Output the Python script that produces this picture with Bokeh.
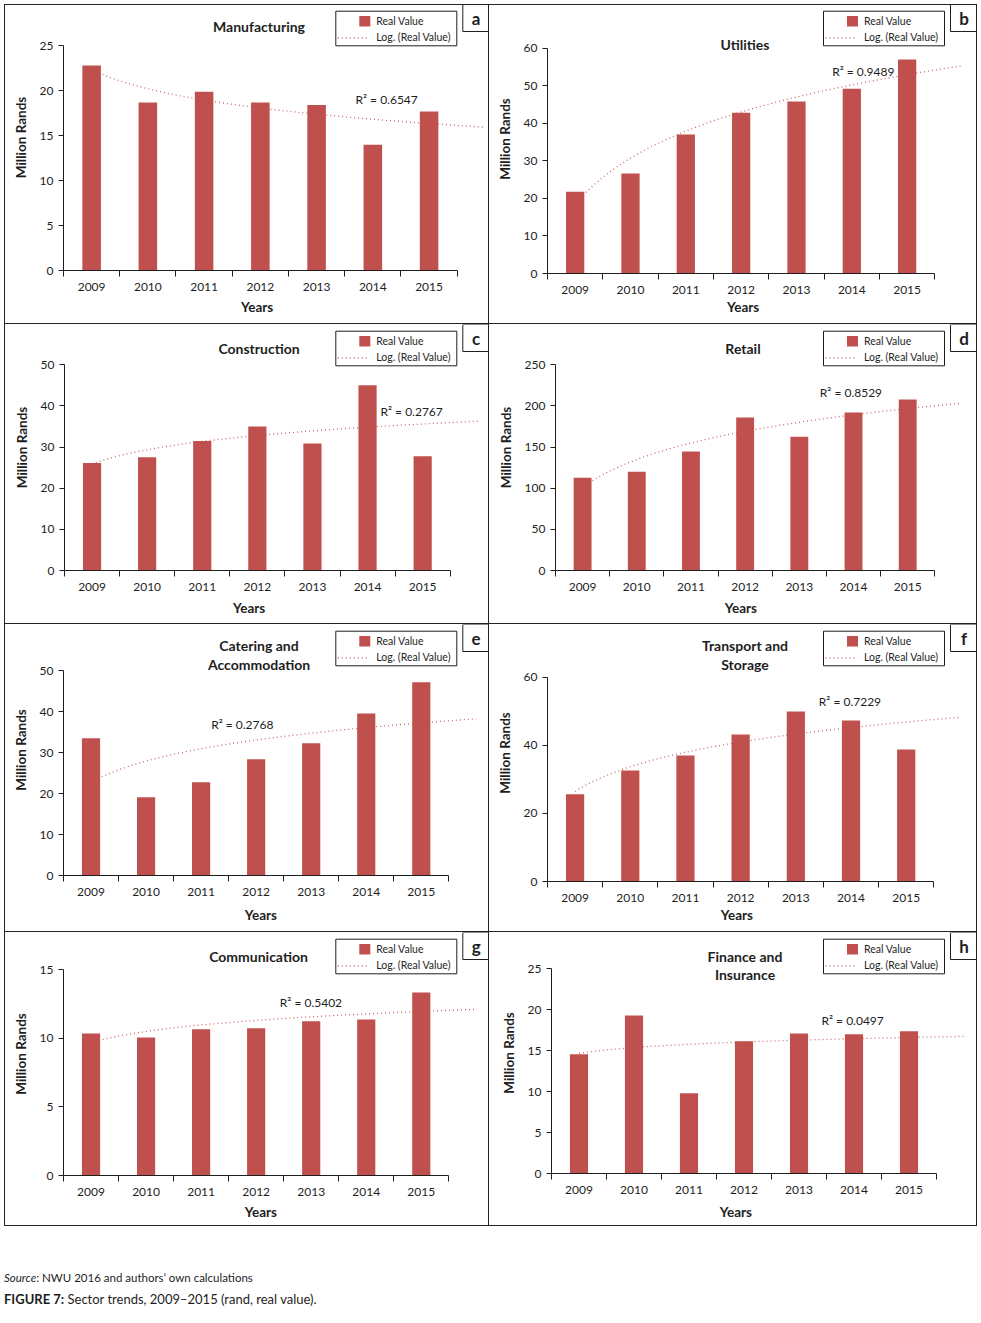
import numpy as np
from bokeh.plotting import figure
from bokeh.layouts import row, column
from bokeh.models import Range1d, FixedTicker, Div, Title
from bokeh.core.properties import value
from bokeh.embed import file_html
from bokeh.resources import INLINE

# ---------------- data ----------------
years = ["2009", "2010", "2011", "2012", "2013", "2014", "2015"]

manufacturing = [22.8, 18.7, 19.9, 18.7, 18.4, 14.0, 17.7]
utilities = [21.8, 26.6, 37.0, 42.8, 45.8, 49.2, 57.0]
construction = [26.1, 27.5, 31.5, 35.0, 30.9, 45.0, 27.8]
retail = [112.8, 120.1, 144.5, 185.9, 162.7, 192.0, 207.8]
catering = [33.5, 19.1, 22.8, 28.4, 32.3, 39.6, 47.2]
transport = [25.6, 32.6, 37.0, 43.2, 49.9, 47.3, 38.8]
communication = [10.36, 10.07, 10.66, 10.73, 11.24, 11.38, 13.35]
finance = [14.55, 19.3, 9.8, 16.14, 17.1, 17.0, 17.36]

r2_labels = ["R\u00b2 = 0.6547", "R\u00b2 = 0.9489", "R\u00b2 = 0.2767", "R\u00b2 = 0.8529",
             "R\u00b2 = 0.2768", "R\u00b2 = 0.7229", "R\u00b2 = 0.5402", "R\u00b2 = 0.0497"]
titles = [["Manufacturing"], ["Utilities"], ["Construction"], ["Retail"],
          ["Catering and", "Accommodation"], ["Transport and", "Storage"],
          ["Communication"], ["Finance and", "Insurance"]]
letters = ["a", "b", "c", "d", "e", "f", "g", "h"]
y_max = [25, 60, 50, 250, 50, 60, 15, 25]
y_step = [5, 10, 10, 50, 10, 20, 5, 5]
series = [manufacturing, utilities, construction, retail,
          catering, transport, communication, finance]

# ---------------- styling / layout ----------------
FONT = "Lato"
BAR = "#C0504D"
TXT = "#1e1e1e"
LINE = "#1e1e1e"
YEARS_W = 35.0  # approx. rendered width of the "Years" caption

# panel geometry (pixels, local to each panel)
# w, h, frame_left, axis_end, frame_bottom, y_top_px, title_x, title_ys,
# r2_x, r2_y, col, years_x, years_standoff
geoms = [
    (485, 320, 59, 452.7, 266, 41.3, 254.5, [22.0], 351.0, 94.7, 0, 254.0, 6),
    (488, 320, 58, 445.3, 269, 43.7, 255.5, [40.3], 342.7, 66.7, 1, 255.0, 0),
    (485, 300, 60, 445.7, 246, 40.3, 254.5, [24.3], 376.0, 87.0, 0, 246.0, 8),
    (488, 300, 66, 445.3, 246, 40.3, 253.5, [24.3], 330.3, 67.7, 1, 252.7, 8),
    (485, 308, 59, 444.3, 251, 46.3, 254.5, [21.3, 40.3], 206.7, 99.7, 0, 257.7, 12),
    (488, 308, 58, 444.3, 257, 52.7, 255.5, [21.3, 40.3], 329.3, 77.0, 1, 248.7, 0),
    (485, 294, 59, 444.3, 243, 37.3, 254.0, [24.3], 275.3, 69.7, 0, 257.7, 6),
    (488, 294, 62, 447.0, 241, 36.3, 255.5, [24.3, 42.3], 332.0, 88.3, 1, 247.7, 10),
]
borders = [["T", "R", "B", "L"], ["T", "R", "B"], ["R", "B", "L"], ["R", "B"],
           ["R", "B", "L"], ["R", "B"], ["R", "B", "L"], ["R", "B"]]
SHADOW = {"L": "inset 1px 0 0 0 #222", "T": "inset 0 1px 0 0 #222",
          "R": "inset -1px 0 0 0 #222", "B": "inset 0 -1px 0 0 #222"}


def make_panel(i):
    vals = series[i]
    (w, h, left, axis_end, bottom, ytop, tx, tys, r2x, r2y, col,
     yrs_x, yrs_so) = geoms[i]
    n = len(years)
    xs = list(range(1, n + 1))
    unit = (axis_end - left) / n
    x_end = 0.5 + (w - left) / unit
    ymax = y_max[i]
    y_end = ymax * bottom / (bottom - ytop)

    p = figure(frame_width=w - left, frame_height=bottom,
               min_border_left=left, min_border_right=0, min_border_top=0,
               min_border_bottom=h - bottom,
               x_range=Range1d(0.5, x_end), y_range=Range1d(0, y_end),
               output_backend="svg", toolbar_location=None, tools="",
               title=None)
    p.border_fill_color = None
    p.background_fill_color = None
    p.outline_line_color = None
    p.xgrid.visible = False
    p.ygrid.visible = False
    p.styles = {"box-shadow": ", ".join(SHADOW[s] for s in borders[i])}

    p.extra_x_ranges = {"px": Range1d(left, w)}
    p.extra_y_ranges = {"px": Range1d(bottom, 0)}

    # bars
    p.vbar(x=xs, top=vals, width=0.33, bottom=0, fill_color=BAR, line_color=None)

    # logarithmic trendline (least squares on ln(x)), forecast forward 1 period
    a, b = np.polyfit(np.log(xs), vals, 1)
    txs = np.linspace(1, n + 1, 300)
    p.line(txs, a * np.log(txs) + b, line_color=BAR, line_dash="1 3",
           line_width=1.3, line_alpha=0.85)

    # axes
    xa = p.xaxis[0]
    xa.ticker = FixedTicker(ticks=xs, minor_ticks=[k + 0.5 for k in range(0, n + 1)])
    xa.major_label_overrides = {x: y for x, y in zip(xs, years)}
    xa.bounds = (0.5, n + 0.5)
    xa.major_tick_line_color = None
    xa.major_tick_out = 0
    xa.major_tick_in = 0
    xa.minor_tick_out = 6
    xa.minor_tick_in = 0
    xa.minor_tick_line_color = LINE
    xa.axis_line_color = LINE
    xa.major_label_standoff = 6

    ya = p.yaxis[0]
    ya.ticker = FixedTicker(ticks=list(range(0, ymax + 1, y_step[i])))
    ya.bounds = (0, ymax)
    ya.minor_tick_line_color = None
    ya.major_tick_out = 5
    ya.major_tick_in = 0
    ya.major_tick_line_color = LINE
    ya.axis_line_color = LINE
    ya.major_label_standoff = 5
    ya.axis_label = "Million Rands"
    ya.axis_label_standoff = 8

    for ax in (xa, ya):
        ax.major_label_text_font = FONT
        ax.major_label_text_font_size = "12px"
        ax.major_label_text_color = TXT
        ax.axis_label_text_font = FONT
        ax.axis_label_text_font_size = "13.5px"
        ax.axis_label_text_font_style = "bold"
        ax.axis_label_text_color = TXT

    # x axis caption, placed below the axis where the original puts it
    p.add_layout(Title(text="Years", align="left",
                       offset=yrs_x - left - YEARS_W / 2.0, standoff=yrs_so,
                       text_font=FONT, text_font_size="13.5px",
                       text_font_style="bold", text_color=TXT), "below")

    def ptext(x, y, txt, size, bold=False, align="left", color=TXT):
        p.text(x=[x], y=[y], text=[txt], x_range_name="px", y_range_name="px",
               text_font=value(FONT), text_font_size=f"{size}px",
               text_font_style="bold" if bold else "normal",
               text_align=align, text_baseline="middle", text_color=color)

    # title
    for line_txt, ty in zip(titles[i], tys):
        ptext(tx, ty, line_txt, 14, bold=True, align="center")

    # R squared label
    ptext(r2x, r2y, r2_labels[i], 12)

    # legend box
    lx0 = 331.3 if col == 0 else 334.0
    lx1 = lx0 + 121.0
    p.quad(left=[lx0], right=[lx1], top=[6.7], bottom=[41.3], fill_color=None,
           line_color=LINE, line_width=1, x_range_name="px", y_range_name="px")
    p.quad(left=[lx0 + 23.5], right=[lx0 + 34.5], top=[11.5], bottom=[22.0],
           fill_color=BAR, line_color=None, x_range_name="px", y_range_name="px")
    ptext(lx0 + 40.5, 16.6, "Real Value", 10.5)
    p.line(x=[lx0 + 2, lx0 + 32], y=[33.3, 33.3], line_color=BAR, line_dash="1 3",
           line_width=1.2, x_range_name="px", y_range_name="px")
    ptext(lx0 + 40.5, 32.6, "Log. (Real Value)", 10.5)

    # panel letter box
    bx0 = 458.3 if col == 0 else 461.0
    p.quad(left=[bx0], right=[w], top=[0], bottom=[27.0], fill_color=None,
           line_color=LINE, line_width=1, x_range_name="px", y_range_name="px")
    ptext((bx0 + w) / 2.0, 14.0, letters[i], 17, bold=True, align="center")
    return p


panels = [make_panel(i) for i in range(8)]

footer = Div(text=(
    "<div style=\"font-family:Lato;color:#1e1e1e;margin-left:-5px;\">"
    "<div style=\"font-size:11.5px;margin-top:39px;\"><i>Source</i>: NWU 2016 and authors\u2019 own calculations</div>"
    "<div style=\"font-size:13px;margin-top:4px;\"><b>FIGURE 7:</b> Sector trends, 2009\u20132015 (rand, real value).</div>"
    "</div>"), width=973, height=90)

layout = column(row(panels[0], panels[1]), row(panels[2], panels[3]),
                row(panels[4], panels[5]), row(panels[6], panels[7]), footer,
                margin=(4, 0, 0, 4))

open("out.html", "w").write(file_html(layout, INLINE))
